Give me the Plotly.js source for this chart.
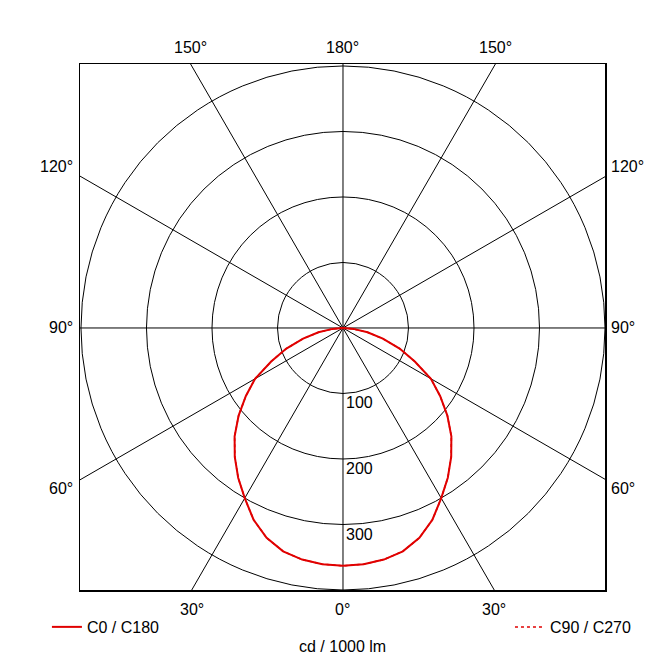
<!DOCTYPE html>
<html><head><meta charset="utf-8">
<script src="https://cdn.plot.ly/plotly-3.0.1.min.js"></script>
<style>html,body{margin:0;padding:0;background:#fff}</style>
</head><body><div id="chart" style="width:658px;height:669px"></div>
<script>
// ---- data (cd / 1000 lm) ----
const gammaDeg = [0, 5, 10, 15, 20, 25, 30, 35, 40, 45, 50, 55, 60, 65, 70, 75, 80, 85, 90];
const c0   = [363, 362, 359, 353, 341, 323, 300, 279, 257, 234, 208, 181, 155, 121, 92, 63, 38, 16, 0];
const c180 = [363, 362, 359, 353, 341, 323, 300, 279, 257, 234, 208, 181, 155, 121, 92, 63, 38, 16, 0];
const c90  = [363, 362, 359, 353, 341, 323, 300, 279, 257, 234, 208, 181, 155, 121, 92, 63, 38, 16, 0];
const c270 = [363, 362, 359, 353, 341, 323, 300, 279, 257, 234, 208, 181, 155, 121, 92, 63, 38, 16, 0];
const gridRadii = [100, 200, 300, 400];
const radialTickLabels = ['100', '200', '300'];
const angleTicks = [0, 30, 60, 90, 120, 150, 180];
const seriesNames = ['C0 / C180', 'C90 / C270'];
const unitLabel = 'cd / 1000 lm';

// ---- helpers ----
const XR = [-401.5, 400], YR = [-400, 403];
const rad = d => d * Math.PI / 180;
function plane(left, right) {
  const x = [], y = [];
  for (let i = gammaDeg.length - 1; i >= 0; i--) { const g = rad(gammaDeg[i]); x.push(-left[i] * Math.sin(g)); y.push(-left[i] * Math.cos(g)); }
  for (let i = 1; i < gammaDeg.length; i++) { const g = rad(gammaDeg[i]); x.push(right[i] * Math.sin(g)); y.push(-right[i] * Math.cos(g)); }
  return {x, y};
}
function boxHit(theta, side) {
  const dx = side * Math.sin(rad(theta)), dy = -Math.cos(rad(theta));
  let t = Infinity, edge = null;
  if (Math.abs(dx) > 1e-9) { const tx = (dx > 0 ? XR[1] : -XR[0]) / Math.abs(dx); if (tx < t) { t = tx; edge = dx > 0 ? 'right' : 'left'; } }
  if (Math.abs(dy) > 1e-9) { const ty = (dy > 0 ? YR[1] : -YR[0]) / Math.abs(dy); if (ty < t) { t = ty; edge = dy > 0 ? 'top' : 'bottom'; } }
  return {x: dx * t, y: dy * t, edge, dy};
}

const FONT = 'Arial, "Liberation Sans", sans-serif';
const FS = 16;
const RED = '#e00000';

// spokes
const sx = [], sy = [];
[0, 30, 60, 90, 120, 150].forEach(th => {
  const a = boxHit(th, 1), b = boxHit(th + 180, 1);
  sx.push(a.x, b.x, null); sy.push(a.y, b.y, null);
});

const traces = [
  {x: sx, y: sy, mode: 'lines', line: {color: '#000', width: 1}, hoverinfo: 'skip', showlegend: false},
];
const p90 = plane(c270, c90);
traces.push({x: p90.x, y: p90.y, mode: 'lines', name: seriesNames[1], legend: 'legend2',
  line: {color: RED, width: 1.5, dash: 'dot'}});
const p0 = plane(c180, c0);
traces.push({x: p0.x, y: p0.y, mode: 'lines', name: seriesNames[0], legend: 'legend',
  line: {color: RED, width: 2}});

const shapes = gridRadii.map(r => ({type: 'circle', xref: 'x', yref: 'y', x0: -r, x1: r, y0: -r, y1: r,
  line: {color: '#000', width: 1}, layer: 'below'}));

const annotations = [];
radialTickLabels.forEach((t, i) => {
  annotations.push({x: 0, y: -gridRadii[i], xref: 'x', yref: 'y', text: t, showarrow: false,
    xanchor: 'left', yanchor: 'top', xshift: 1, yshift: 1, font: {family: FONT, size: FS, color: '#000'}});
});
angleTicks.forEach(th => {
  const sides = (th === 0 || th === 180) ? [1] : [-1, 1];
  sides.forEach(s => {
    const h = boxHit(th, s);
    const a = {x: h.x, y: h.y, xref: 'x', yref: 'y', text: th + '°', showarrow: false,
      font: {family: FONT, size: FS, color: '#000'}};
    if (h.edge === 'top') { a.yanchor = 'bottom'; a.yshift = 6; }
    else if (h.edge === 'bottom') { a.yanchor = 'top'; a.yshift = -9; }
    else {
      a.xanchor = h.edge === 'left' ? 'right' : 'left';
      a.xshift = h.edge === 'left' ? -5 : 4;
      a.yshift = Math.abs(h.dy) < 1e-6 ? 0 : (h.dy > 0 ? 10 : -9);
    }
    annotations.push(a);
  });
});
annotations.push({x: 0, y: -0.1065, xref: 'x', yref: 'paper', text: unitLabel, showarrow: false,
  yanchor: 'middle', font: {family: FONT, size: FS, color: '#000'}});

const axis = {showgrid: false, zeroline: false, showticklabels: false, ticks: '',
  showline: true, mirror: true, linecolor: '#000', linewidth: 1.5, fixedrange: true};

const layout = {
  width: 658, height: 669,
  margin: {l: 80, r: 53, t: 64, b: 79, pad: 0},
  paper_bgcolor: '#fff', plot_bgcolor: '#fff',
  font: {family: FONT, size: FS, color: '#000'},
  xaxis: Object.assign({range: XR}, axis),
  yaxis: Object.assign({range: YR}, axis),
  shapes, annotations,
  legend: {x: -0.063, xanchor: 'left', y: -0.0703, yanchor: 'middle', orientation: 'h',
    bgcolor: 'rgba(0,0,0,0)', font: {family: FONT, size: FS, color: '#000'}},
  legend2: {x: 0.819, xanchor: 'left', y: -0.0703, yanchor: 'middle', orientation: 'h',
    bgcolor: 'rgba(0,0,0,0)', font: {family: FONT, size: FS, color: '#000'}},
  showlegend: true
};
Plotly.newPlot('chart', traces, layout, {displayModeBar: false, staticPlot: true});
</script></body></html>
